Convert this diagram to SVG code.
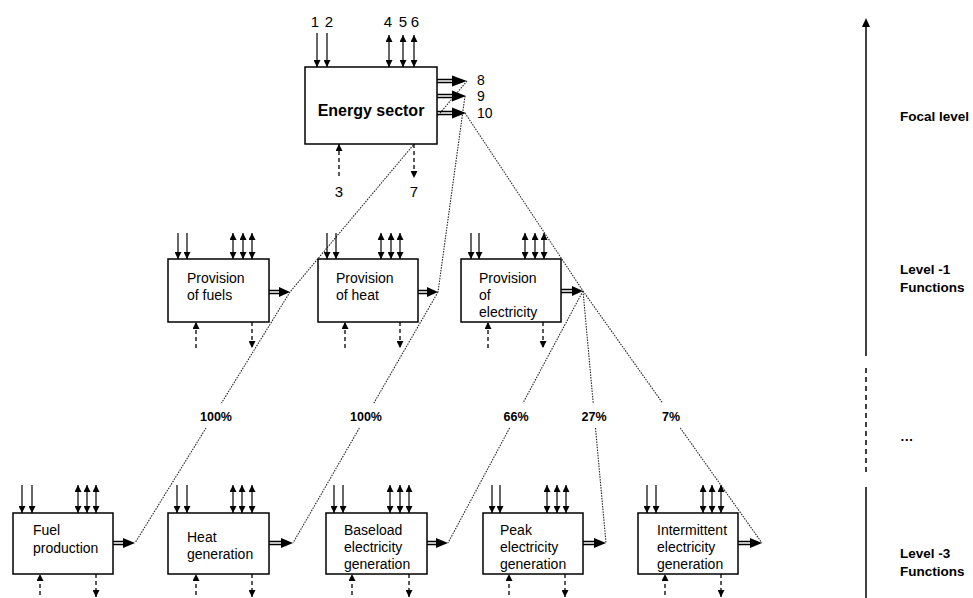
<svg xmlns="http://www.w3.org/2000/svg" width="973" height="598" viewBox="0 0 973 598">
<defs>
<marker id="ah" markerUnits="userSpaceOnUse" markerWidth="8" markerHeight="7" refX="7" refY="3.5" orient="auto-start-reverse"><path d="M0,0 L7,3.5 L0,7 z" fill="#000"/></marker>
<style>
text{font-family:"Liberation Sans",Arial,sans-serif;fill:#000}
.box{fill:#fff;stroke:#000;stroke-width:1.5}
.a{stroke:#000;stroke-width:1.2;fill:none;marker-end:url(#ah)}
.b{stroke:#000;stroke-width:1.2;fill:none;marker-start:url(#ah);marker-end:url(#ah)}
.d{stroke:#000;stroke-width:1.3;fill:none;stroke-dasharray:4 3;marker-end:url(#ah)}
.dbl{stroke:#000;stroke-width:1.3;fill:none}
.head{fill:#000}
.dot{stroke:#222;stroke-width:1.1;fill:none;stroke-dasharray:1.5 1.2}
.t{font-size:14px}
.n{font-size:15px}
.m{font-size:14px}
.big{font-size:16px;font-weight:bold}
.pct{font-size:12.5px;font-weight:bold;text-anchor:middle}
.lvl{font-size:13.5px;font-weight:bold}
.axis{stroke:#000;stroke-width:1.5;fill:none}
</style>
</defs>

<g id="connectors">
<path class="dot" d="M467,81 L290,292"/>
<path class="dot" d="M465,96 L438,292"/>
<path class="dot" d="M465,113 L583,291"/>
<path class="dot" d="M290,292 L221.5,403 M206,428 L135,543"/>
<path class="dot" d="M438,292 L373.9,403 M359.4,428 L293,543"/>
<path class="dot" d="M583,291 L523,403 M509.6,428 L448,543"/>
<path class="dot" d="M583,291 L593.2,403 M595.5,428 L606,543"/>
<path class="dot" d="M583,291 L662.6,403 M680.3,428 L762,543"/>
<line class="axis" x1="866" y1="356" x2="866" y2="26"/>
<path d="M862,27 L866,18 L870,27 z" fill="#000"/>
<line class="axis" x1="866" y1="368" x2="866" y2="475" stroke-dasharray="5 4"/>
<line class="axis" x1="866" y1="487" x2="866" y2="598"/>
</g>

<g id="energy-sector">
<rect class="box" x="305" y="67" width="132" height="77"/>
<text class="big" x="371" y="116" text-anchor="middle">Energy sector</text>
<line class="a" x1="317" y1="33" x2="317" y2="67"/>
<line class="a" x1="327" y1="33" x2="327" y2="67"/>
<line class="b" x1="389" y1="35" x2="389" y2="67"/>
<line class="b" x1="403" y1="35" x2="403" y2="67"/>
<line class="b" x1="414" y1="35" x2="414" y2="67"/>
<line class="d" x1="339" y1="176" x2="339" y2="144"/>
<line class="d" x1="414" y1="144" x2="414" y2="178"/>
<path class="dbl" d="M437,79.5 H455 M437,82.5 H455"/>
<path class="head" d="M452,75.5 L467,81 L452,86.5 z"/>
<path class="dbl" d="M437,94.5 H455 M437,97.5 H455"/>
<path class="head" d="M452,90.5 L466,96 L452,101.5 z"/>
<path class="dbl" d="M437,111.5 H455 M437,114.5 H455"/>
<path class="head" d="M452,107.5 L466,113 L452,118.5 z"/>
<text class="n" x="315" y="27" text-anchor="middle">1</text>
<text class="n" x="329" y="27" text-anchor="middle">2</text>
<text class="n" x="388" y="27" text-anchor="middle">4</text>
<text class="n" x="403" y="27" text-anchor="middle">5</text>
<text class="n" x="415" y="27" text-anchor="middle">6</text>
<text class="n" x="339" y="197" text-anchor="middle">3</text>
<text class="n" x="414" y="197" text-anchor="middle">7</text>
<text class="m" x="477" y="85">8</text>
<text class="m" x="477" y="101">9</text>
<text class="m" x="477" y="118">10</text>
</g>

<g id="provision-fuels">
<rect class="box" x="168" y="259" width="101" height="63"/>
<line class="a" x1="178" y1="233" x2="178" y2="259"/>
<line class="a" x1="187" y1="233" x2="187" y2="259"/>
<line class="b" x1="233" y1="233" x2="233" y2="259"/>
<line class="b" x1="243" y1="233" x2="243" y2="259"/>
<line class="b" x1="252" y1="233" x2="252" y2="259"/>
<line class="d" x1="196" y1="348" x2="196" y2="322"/>
<line class="d" x1="252" y1="322" x2="252" y2="348"/>
<path class="dbl" d="M269,290.5 H281 M269,293.5 H281"/>
<path class="head" d="M279,287 L290,292 L279,297 z"/>
<text class="t" x="187" y="283">Provision</text>
<text class="t" x="187" y="300">of fuels</text>
</g>

<g id="provision-heat">
<rect class="box" x="318" y="259" width="100" height="63"/>
<line class="a" x1="327" y1="233" x2="327" y2="259"/>
<line class="a" x1="336" y1="233" x2="336" y2="259"/>
<line class="b" x1="381" y1="233" x2="381" y2="259"/>
<line class="b" x1="391" y1="233" x2="391" y2="259"/>
<line class="b" x1="400" y1="233" x2="400" y2="259"/>
<line class="d" x1="345" y1="348" x2="345" y2="322"/>
<line class="d" x1="400" y1="322" x2="400" y2="348"/>
<path class="dbl" d="M418,290.5 H429 M418,293.5 H429"/>
<path class="head" d="M427,287 L438,292 L427,297 z"/>
<text class="t" x="336" y="283">Provision</text>
<text class="t" x="336" y="300">of heat</text>
</g>

<g id="provision-electricity">
<rect class="box" x="461" y="259" width="100" height="63"/>
<line class="a" x1="471" y1="233" x2="471" y2="259"/>
<line class="a" x1="479" y1="233" x2="479" y2="259"/>
<line class="b" x1="525" y1="233" x2="525" y2="259"/>
<line class="b" x1="535" y1="233" x2="535" y2="259"/>
<line class="b" x1="544" y1="233" x2="544" y2="259"/>
<line class="d" x1="488" y1="348" x2="488" y2="322"/>
<line class="d" x1="543" y1="322" x2="543" y2="348"/>
<path class="dbl" d="M561,289.5 H574 M561,292.5 H574"/>
<path class="head" d="M572,286 L583,291 L572,296 z"/>
<text class="t" x="479" y="283">Provision</text>
<text class="t" x="479" y="300">of</text>
<text class="t" x="479" y="317">electricity</text>
</g>

<g id="fuel-production">
<rect class="box" x="13" y="513" width="100" height="61"/>
<line class="a" x1="22" y1="485" x2="22" y2="513"/>
<line class="a" x1="32" y1="485" x2="32" y2="513"/>
<line class="b" x1="78" y1="485" x2="78" y2="513"/>
<line class="b" x1="87" y1="485" x2="87" y2="513"/>
<line class="b" x1="96" y1="485" x2="96" y2="513"/>
<line class="d" x1="40" y1="602" x2="40" y2="574"/>
<line class="d" x1="96" y1="574" x2="96" y2="597"/>
<path class="dbl" d="M113,541.5 H125 M113,544.5 H125"/>
<path class="head" d="M123,538 L135,543 L123,548 z"/>
<text class="t" x="33" y="535">Fuel</text>
<text class="t" x="33" y="553">production</text>
</g>

<g id="heat-generation">
<rect class="box" x="168" y="513" width="101" height="61"/>
<line class="a" x1="177" y1="485" x2="177" y2="513"/>
<line class="a" x1="187" y1="485" x2="187" y2="513"/>
<line class="b" x1="233" y1="485" x2="233" y2="513"/>
<line class="b" x1="242" y1="485" x2="242" y2="513"/>
<line class="b" x1="252" y1="485" x2="252" y2="513"/>
<line class="d" x1="196" y1="602" x2="196" y2="574"/>
<line class="d" x1="252" y1="574" x2="252" y2="597"/>
<path class="dbl" d="M269,541.5 H282 M269,544.5 H282"/>
<path class="head" d="M281,538 L293,543 L281,548 z"/>
<text class="t" x="187" y="542">Heat</text>
<text class="t" x="187" y="559">generation</text>
</g>

<g id="baseload-generation">
<rect class="box" x="326" y="513" width="101" height="61"/>
<line class="a" x1="334" y1="485" x2="334" y2="513"/>
<line class="a" x1="343" y1="485" x2="343" y2="513"/>
<line class="b" x1="390" y1="485" x2="390" y2="513"/>
<line class="b" x1="400" y1="485" x2="400" y2="513"/>
<line class="b" x1="409" y1="485" x2="409" y2="513"/>
<line class="d" x1="352" y1="602" x2="352" y2="574"/>
<line class="d" x1="409" y1="574" x2="409" y2="597"/>
<path class="dbl" d="M427,541.5 H437 M427,544.5 H437"/>
<path class="head" d="M436,538 L448,543 L436,548 z"/>
<text class="t" x="344" y="535">Baseload</text>
<text class="t" x="344" y="552">electricity</text>
<text class="t" x="344" y="569">generation</text>
</g>

<g id="peak-generation">
<rect class="box" x="483" y="513" width="100" height="61"/>
<line class="a" x1="492" y1="485" x2="492" y2="513"/>
<line class="a" x1="500" y1="485" x2="500" y2="513"/>
<line class="b" x1="547" y1="485" x2="547" y2="513"/>
<line class="b" x1="557" y1="485" x2="557" y2="513"/>
<line class="b" x1="566" y1="485" x2="566" y2="513"/>
<line class="d" x1="509" y1="602" x2="509" y2="574"/>
<line class="d" x1="565" y1="574" x2="565" y2="597"/>
<path class="dbl" d="M583,541.5 H595 M583,544.5 H595"/>
<path class="head" d="M594,538 L606,543 L594,548 z"/>
<text class="t" x="500" y="535">Peak</text>
<text class="t" x="500" y="552">electricity</text>
<text class="t" x="500" y="569">generation</text>
</g>

<g id="intermittent-generation">
<rect class="box" x="638" y="513" width="100" height="61"/>
<line class="a" x1="647" y1="485" x2="647" y2="513"/>
<line class="a" x1="656" y1="485" x2="656" y2="513"/>
<line class="b" x1="703" y1="485" x2="703" y2="513"/>
<line class="b" x1="712" y1="485" x2="712" y2="513"/>
<line class="b" x1="721" y1="485" x2="721" y2="513"/>
<line class="d" x1="665" y1="602" x2="665" y2="574"/>
<line class="d" x1="721" y1="574" x2="721" y2="597"/>
<path class="dbl" d="M738,541.5 H751 M738,544.5 H751"/>
<path class="head" d="M750,538 L762,543 L750,548 z"/>
<text class="t" x="657" y="535">Intermittent</text>
<text class="t" x="657" y="552">electricity</text>
<text class="t" x="657" y="569">generation</text>
</g>

<g id="percentages">
<text class="pct" x="216" y="421">100%</text>
<text class="pct" x="366" y="421">100%</text>
<text class="pct" x="516" y="421">66%</text>
<text class="pct" x="594" y="421">27%</text>
<text class="pct" x="671" y="421">7%</text>
</g>

<g id="levels">
<text class="lvl" x="900" y="121">Focal level</text>
<text class="lvl" x="900" y="274">Level -1</text>
<text class="lvl" x="900" y="292">Functions</text>
<text class="lvl" x="900" y="441" font-weight="normal">…</text>
<text class="lvl" x="900" y="558">Level -3</text>
<text class="lvl" x="900" y="576">Functions</text>
</g>
</svg>
